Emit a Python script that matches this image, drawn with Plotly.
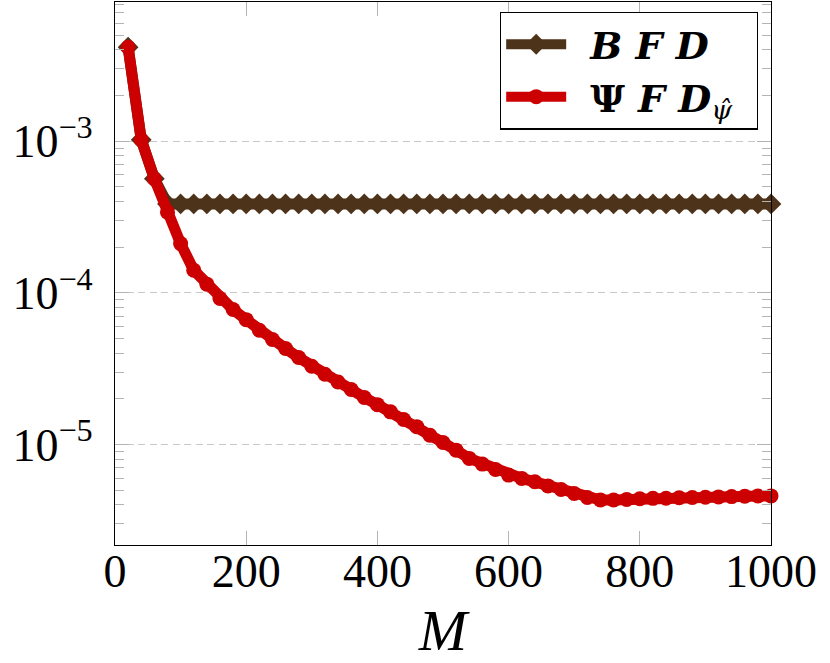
import plotly.graph_objects as go

# ---- data ----
M = [20, 40, 60, 80, 100, 120, 140, 160, 180, 200,
     220, 240, 260, 280, 300, 320, 340, 360, 380, 400,
     420, 440, 460, 480, 500, 520, 540, 560, 580, 600,
     620, 640, 660, 680, 700, 720, 740, 760, 780, 800,
     820, 840, 860, 880, 900, 920, 940, 960, 980, 1000]

bfd = [4.16e-3, 1.02e-3, 5.65e-4, 3.85e-4, 3.85e-4, 3.85e-4, 3.85e-4, 3.85e-4, 3.85e-4, 3.85e-4,
       3.85e-4, 3.85e-4, 3.85e-4, 3.85e-4, 3.85e-4, 3.85e-4, 3.85e-4, 3.85e-4, 3.85e-4, 3.85e-4,
       3.85e-4, 3.85e-4, 3.85e-4, 3.85e-4, 3.85e-4, 3.85e-4, 3.85e-4, 3.85e-4, 3.85e-4, 3.85e-4,
       3.85e-4, 3.85e-4, 3.85e-4, 3.85e-4, 3.85e-4, 3.85e-4, 3.85e-4, 3.85e-4, 3.85e-4, 3.85e-4,
       3.85e-4, 3.85e-4, 3.85e-4, 3.85e-4, 3.85e-4, 3.85e-4, 3.85e-4, 3.85e-4, 3.85e-4, 3.85e-4]

psifd = [4.16e-3, 1.02e-3, 5.65e-4, 3.40e-4, 2.11e-4, 1.41e-4, 1.14e-4, 9.16e-5, 7.75e-5, 6.65e-5,
         5.66e-5, 4.92e-5, 4.29e-5, 3.74e-5, 3.28e-5, 2.90e-5, 2.58e-5, 2.30e-5, 2.04e-5, 1.83e-5,
         1.64e-5, 1.46e-5, 1.31e-5, 1.15e-5, 1.03e-5, 9.17e-6, 8.09e-6, 7.42e-6, 6.84e-6, 6.28e-6,
         5.97e-6, 5.67e-6, 5.33e-6, 5.05e-6, 4.75e-6, 4.47e-6, 4.30e-6, 4.30e-6, 4.34e-6, 4.38e-6,
         4.41e-6, 4.42e-6, 4.45e-6, 4.47e-6, 4.49e-6, 4.51e-6, 4.53e-6, 4.55e-6, 4.58e-6, 4.58e-6]

x_ticks = [0, 200, 400, 600, 800, 1000]
x_ticktext = ["0", "200", "400", "600", "800", "1000"]
y_ticks = [1e-5, 1e-4, 1e-3]
y_ticktext = ["10<sup>\u22125</sup>", "10<sup>\u22124</sup>", "10<sup>\u22123</sup>"]
y_minor = [k * 10.0 ** e for e in (-6, -5, -4, -3) for k in (2, 3, 4, 5, 6, 7, 8, 9)]

names = [
    "\u2002<b><i>B F D</i></b>",
    "\u2002<b>\u03a8 <i>F D</i></b><sub><i>\u03c8\u0302</i></sub>\u2002",
]

BROWN = "#4d331a"
RED = "#cc0000"
FONT = "Liberation Serif"
LEGEND_FONT = "DejaVu Serif"

fig = go.Figure()
fig.add_trace(go.Scatter(
    x=M, y=bfd, name=names[0], mode="lines+markers", cliponaxis=False,
    line=dict(color=BROWN, width=11),
    marker=dict(symbol="diamond", size=16, color=BROWN),
))
fig.add_trace(go.Scatter(
    x=M, y=psifd, name=names[1], mode="lines+markers", cliponaxis=False,
    line=dict(color=RED, width=11),
    marker=dict(symbol="circle", size=15, color=RED),
))

fig.update_layout(
    width=830, height=663,
    margin=dict(l=115, r=59, t=2, b=118, autoexpand=False),
    paper_bgcolor="white", plot_bgcolor="white",
    font=dict(family=FONT, color="black", size=46),
    showlegend=True,
    legend=dict(
        x=0.98, y=0.982, xanchor="right", yanchor="top",
        bgcolor="white", bordercolor="black", borderwidth=1.3,
        font=dict(size=38, family=LEGEND_FONT), itemwidth=60, tracegroupgap=0,
    ),
)
fig.update_xaxes(
    range=[0, 1000], tickmode="array", tickvals=x_ticks, ticktext=x_ticktext,
    ticks="inside", ticklen=14, tickwidth=1, tickcolor="#b4b4b4",
    showline=True, linecolor="black", linewidth=1.3, mirror="ticks",
    showgrid=False, zeroline=False, automargin=False,
    tickfont=dict(size=46, family=FONT), ticklabelstandoff=-14,
    title=dict(text="<i>M</i>", font=dict(size=58, family=FONT), standoff=19),
)
fig.update_yaxes(
    type="log", range=[-5.663, -2.083],
    tickmode="array", tickvals=y_ticks, ticktext=y_ticktext,
    ticks="inside", ticklen=14, tickwidth=1, tickcolor="#b4b4b4",
    minor=dict(tickmode="array", tickvals=y_minor, ticks="inside", ticklen=9,
               tickwidth=1, tickcolor="#b4b4b4", showgrid=False),
    showline=True, linecolor="black", linewidth=1.3, mirror="ticks",
    showgrid=True, gridcolor="#c8c8c8", gridwidth=1.3, griddash="7px,4.5px",
    zeroline=False, ticklabelstandoff=12, automargin=False,
    tickfont=dict(size=46, family=FONT),
)

fig.write_html(
    "out.html",
    config={"displayModeBar": False},
    post_script="document.body.style.margin='0';document.body.style.overflow='hidden';",
)
